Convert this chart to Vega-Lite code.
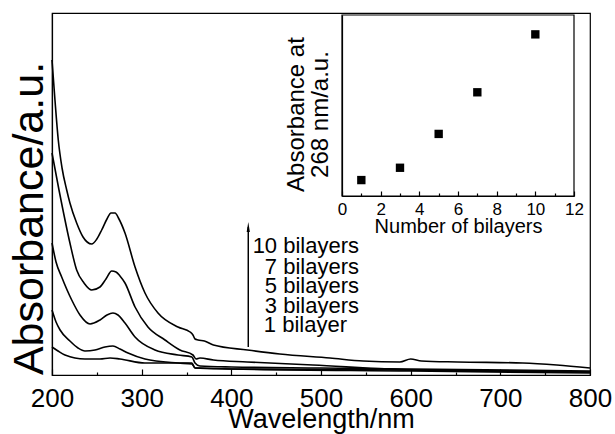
{
  "$schema": "https://vega.github.io/schema/vega-lite/v6.json",
  "width": 538,
  "height": 362,
  "autosize": {"type": "none"},
  "padding": {"left": 52, "top": 13, "right": 25, "bottom": 59},
  "background": "white",
  "config": {
    "view": {"stroke": "black", "strokeWidth": 1.2},
    "axis": {"grid": false, "domainColor": "black", "tickColor": "black", "labelColor": "black", "titleColor": "black", "labelFont": "Liberation Sans", "titleFont": "Liberation Sans", "titleFontWeight": "normal", "domainWidth": 1.2, "tickWidth": 1.2, "labelFlush": false, "labelOverlap": false, "labelBound": false},
    "text": {"font": "Liberation Sans"}
  },
  "datasets": {
    "spectra": [
      {"series": "10", "wl": 200, "abs": 1.575}, {"series": "10", "wl": 203.3, "abs": 1.375}, {"series": "10", "wl": 207, "abs": 1.175}, {"series": "10", "wl": 211.2, "abs": 1.035}, {"series": "10", "wl": 216.4, "abs": 0.925}, {"series": "10", "wl": 220, "abs": 0.86}, {"series": "10", "wl": 227.5, "abs": 0.76}, {"series": "10", "wl": 234.6, "abs": 0.69}, {"series": "10", "wl": 244.3, "abs": 0.655}, {"series": "10", "wl": 250, "abs": 0.68}, {"series": "10", "wl": 255.4, "abs": 0.725}, {"series": "10", "wl": 261.3, "abs": 0.78}, {"series": "10", "wl": 265.8, "abs": 0.81}, {"series": "10", "wl": 270.3, "abs": 0.81}, {"series": "10", "wl": 274.7, "abs": 0.78}, {"series": "10", "wl": 281.4, "abs": 0.71}, {"series": "10", "wl": 292.6, "abs": 0.54}, {"series": "10", "wl": 303.7, "abs": 0.41}, {"series": "10", "wl": 318.2, "abs": 0.31}, {"series": "10", "wl": 340.5, "abs": 0.24}, {"series": "10", "wl": 354, "abs": 0.215}, {"series": "10", "wl": 357.2, "abs": 0.2}, {"series": "10", "wl": 359.5, "abs": 0.18}, {"series": "10", "wl": 362.8, "abs": 0.175}, {"series": "10", "wl": 370, "abs": 0.17}, {"series": "10", "wl": 380, "abs": 0.15}, {"series": "10", "wl": 418, "abs": 0.125}, {"series": "10", "wl": 454, "abs": 0.105}, {"series": "10", "wl": 510, "abs": 0.085}, {"series": "10", "wl": 547, "abs": 0.07}, {"series": "10", "wl": 588, "abs": 0.065}, {"series": "10", "wl": 600, "abs": 0.08}, {"series": "10", "wl": 612, "abs": 0.07}, {"series": "10", "wl": 652, "abs": 0.065}, {"series": "10", "wl": 725, "abs": 0.06}, {"series": "10", "wl": 763, "abs": 0.05}, {"series": "10", "wl": 800, "abs": 0.035},
      {"series": "7", "wl": 200, "abs": 1.11}, {"series": "7", "wl": 207.8, "abs": 0.925}, {"series": "7", "wl": 210, "abs": 0.875}, {"series": "7", "wl": 220, "abs": 0.66}, {"series": "7", "wl": 227.5, "abs": 0.525}, {"series": "7", "wl": 235.7, "abs": 0.46}, {"series": "7", "wl": 244.3, "abs": 0.425}, {"series": "7", "wl": 253.5, "abs": 0.44}, {"series": "7", "wl": 260.2, "abs": 0.48}, {"series": "7", "wl": 266.6, "abs": 0.52}, {"series": "7", "wl": 271.4, "abs": 0.515}, {"series": "7", "wl": 275.8, "abs": 0.495}, {"series": "7", "wl": 281.4, "abs": 0.46}, {"series": "7", "wl": 292.6, "abs": 0.34}, {"series": "7", "wl": 307, "abs": 0.24}, {"series": "7", "wl": 326, "abs": 0.175}, {"series": "7", "wl": 342.7, "abs": 0.125}, {"series": "7", "wl": 357.2, "abs": 0.1}, {"series": "7", "wl": 360.6, "abs": 0.08}, {"series": "7", "wl": 365, "abs": 0.085}, {"series": "7", "wl": 380, "abs": 0.075}, {"series": "7", "wl": 417.5, "abs": 0.065}, {"series": "7", "wl": 491, "abs": 0.05}, {"series": "7", "wl": 588, "abs": 0.027}, {"series": "7", "wl": 700, "abs": 0.02}, {"series": "7", "wl": 800, "abs": 0.015},
      {"series": "5", "wl": 200, "abs": 0.66}, {"series": "5", "wl": 204.5, "abs": 0.565}, {"series": "5", "wl": 210.8, "abs": 0.49}, {"series": "5", "wl": 222, "abs": 0.375}, {"series": "5", "wl": 231.2, "abs": 0.3}, {"series": "5", "wl": 242.4, "abs": 0.255}, {"series": "5", "wl": 253.5, "abs": 0.275}, {"series": "5", "wl": 261.3, "abs": 0.3}, {"series": "5", "wl": 268, "abs": 0.31}, {"series": "5", "wl": 273.6, "abs": 0.3}, {"series": "5", "wl": 281.4, "abs": 0.26}, {"series": "5", "wl": 292.6, "abs": 0.19}, {"series": "5", "wl": 314.9, "abs": 0.125}, {"series": "5", "wl": 340.5, "abs": 0.1}, {"series": "5", "wl": 356, "abs": 0.09}, {"series": "5", "wl": 359.5, "abs": 0.06}, {"series": "5", "wl": 365, "abs": 0.045}, {"series": "5", "wl": 400, "abs": 0.04}, {"series": "5", "wl": 500, "abs": 0.035}, {"series": "5", "wl": 600, "abs": 0.03}, {"series": "5", "wl": 800, "abs": 0.02},
      {"series": "3", "wl": 200, "abs": 0.325}, {"series": "3", "wl": 204.5, "abs": 0.265}, {"series": "3", "wl": 209, "abs": 0.225}, {"series": "3", "wl": 220, "abs": 0.17}, {"series": "3", "wl": 229, "abs": 0.135}, {"series": "3", "wl": 236.8, "abs": 0.12}, {"series": "3", "wl": 248, "abs": 0.125}, {"series": "3", "wl": 259, "abs": 0.14}, {"series": "3", "wl": 268, "abs": 0.145}, {"series": "3", "wl": 275.8, "abs": 0.13}, {"series": "3", "wl": 284.8, "abs": 0.11}, {"series": "3", "wl": 303.7, "abs": 0.08}, {"series": "3", "wl": 340.5, "abs": 0.06}, {"series": "3", "wl": 356, "abs": 0.055}, {"series": "3", "wl": 359.5, "abs": 0.035}, {"series": "3", "wl": 365, "abs": 0.035}, {"series": "3", "wl": 400, "abs": 0.03}, {"series": "3", "wl": 600, "abs": 0.025}, {"series": "3", "wl": 800, "abs": 0.015},
      {"series": "1", "wl": 200, "abs": 0.14}, {"series": "1", "wl": 206.7, "abs": 0.12}, {"series": "1", "wl": 214.5, "abs": 0.1}, {"series": "1", "wl": 236.8, "abs": 0.08}, {"series": "1", "wl": 253.5, "abs": 0.08}, {"series": "1", "wl": 264.7, "abs": 0.085}, {"series": "1", "wl": 275.8, "abs": 0.08}, {"series": "1", "wl": 303.7, "abs": 0.06}, {"series": "1", "wl": 356, "abs": 0.06}, {"series": "1", "wl": 359.5, "abs": 0.035}, {"series": "1", "wl": 400, "abs": 0.03}, {"series": "1", "wl": 600, "abs": 0.02}, {"series": "1", "wl": 800, "abs": 0.01}
    ],
    "labels": [
      {"label": "10 bilayers", "wl": 542.4, "abs": 0.61},
      {"label": "7 bilayers", "wl": 542.4, "abs": 0.505},
      {"label": "5 bilayers", "wl": 542.4, "abs": 0.41},
      {"label": "3 bilayers", "wl": 542.4, "abs": 0.31},
      {"label": "1 bilayer", "wl": 529, "abs": 0.215}
    ],
    "arrow": [{"wl": 418.9, "from": 0.14, "to": 0.74}],
    "inset": [
      {"n": 1, "v": 0.088},
      {"n": 3, "v": 0.156},
      {"n": 5, "v": 0.343},
      {"n": 7, "v": 0.573},
      {"n": 10, "v": 0.893}
    ]
  },
  "resolve": {"scale": {"x": "independent", "y": "independent"}},
  "layer": [
    {
      "data": {"name": "spectra"},
      "mark": {"type": "line", "color": "black", "strokeWidth": 1.6, "interpolate": "monotone"},
      "encoding": {
        "x": {"field": "wl", "type": "quantitative", "scale": {"domain": [200, 800], "nice": false, "zero": false},
          "axis": {"orient": "bottom", "values": [200, 300, 400, 500, 600, 700, 800], "tickSize": -6, "labelFontSize": 26, "labelPadding": 16, "title": "Wavelength/nm", "titleFontSize": 27, "titleBaseline": "alphabetic", "titleY": 52}},
        "y": {"field": "abs", "type": "quantitative", "scale": {"domain": [0, 1.81], "nice": false, "zero": false},
          "axis": {"orient": "left", "ticks": false, "labels": false, "title": "Absorbance/a.u.", "titleFontSize": 43, "titleX": -10, "titleY": 205, "titleAngle": 270, "titleBaseline": "alphabetic", "titleAlign": "center"}},
        "detail": {"field": "series", "type": "nominal"}
      }
    },
    {
      "data": {"name": "labels"},
      "mark": {"type": "text", "align": "right", "baseline": "alphabetic", "fontSize": 22, "font": "Liberation Sans", "color": "black"},
      "encoding": {
        "x": {"field": "wl", "type": "quantitative", "scale": {"domain": [200, 800], "nice": false, "zero": false},
          "axis": {"orient": "bottom", "values": [250, 350, 450, 550, 650, 750], "tickSize": -3, "labels": false, "domain": false, "title": null}},
        "y": {"field": "abs", "type": "quantitative", "scale": {"domain": [0, 1.81], "nice": false, "zero": false}, "axis": null},
        "text": {"field": "label"}
      }
    },
    {
      "data": {"name": "arrow"},
      "mark": {"type": "rule", "color": "black", "strokeWidth": 1.5},
      "encoding": {
        "x": {"field": "wl", "type": "quantitative", "scale": {"domain": [200, 800], "nice": false, "zero": false}, "axis": null},
        "y": {"field": "from", "type": "quantitative", "scale": {"domain": [0, 1.81], "nice": false, "zero": false}, "axis": null},
        "y2": {"field": "to"}
      }
    },
    {
      "data": {"name": "arrow"},
      "mark": {"type": "point", "shape": "M0,-1L0.32,1L-0.32,1Z", "filled": true, "size": 100, "color": "black", "opacity": 1},
      "encoding": {
        "x": {"field": "wl", "type": "quantitative", "scale": {"domain": [200, 800], "nice": false, "zero": false}, "axis": null},
        "y": {"field": "to", "type": "quantitative", "scale": {"domain": [0, 1.81], "nice": false, "zero": false}, "axis": null}
      }
    },
    {
      "data": {"values": [{}]},
      "mark": {"type": "rect", "filled": false, "stroke": "black", "strokeWidth": 1.2},
      "encoding": {
        "x": {"datum": 0, "type": "quantitative", "scale": {"domain": [0, 12], "range": [290, 522], "nice": false, "zero": false},
          "axis": {"orient": "bottom", "offset": -179, "values": [1, 3, 5, 7, 9, 11], "tickSize": -3, "labels": false, "domain": false, "title": null}},
        "x2": {"datum": 12},
        "y": {"datum": 0, "type": "quantitative", "scale": {"domain": [0, 1], "range": [183, 2], "nice": false, "zero": false}, "axis": null},
        "y2": {"datum": 1}
      }
    },
    {
      "data": {"name": "inset"},
      "mark": {"type": "square", "size": 70, "color": "black", "opacity": 1},
      "encoding": {
        "x": {"field": "n", "type": "quantitative", "scale": {"domain": [0, 12], "range": [290, 522], "nice": false, "zero": false},
          "axis": {"orient": "bottom", "offset": -179, "values": [0, 2, 4, 6, 8, 10, 12], "tickSize": -5, "labelFontSize": 17, "labelPadding": 10, "title": "Number of bilayers", "titleFontSize": 20, "titleBaseline": "alphabetic", "titleY": 36}},
        "y": {"field": "v", "type": "quantitative", "scale": {"domain": [0, 1], "range": [183, 2], "nice": false, "zero": false},
          "axis": {"orient": "left", "offset": -290, "ticks": false, "labels": false, "title": ["Absorbance at", "268 nm/a.u."], "titleFontSize": 24, "titleLineHeight": 24, "titleX": -39, "titleY": 101, "titleAngle": 270, "titleBaseline": "alphabetic", "titleAlign": "center"}}
      }
    }
  ]
}
